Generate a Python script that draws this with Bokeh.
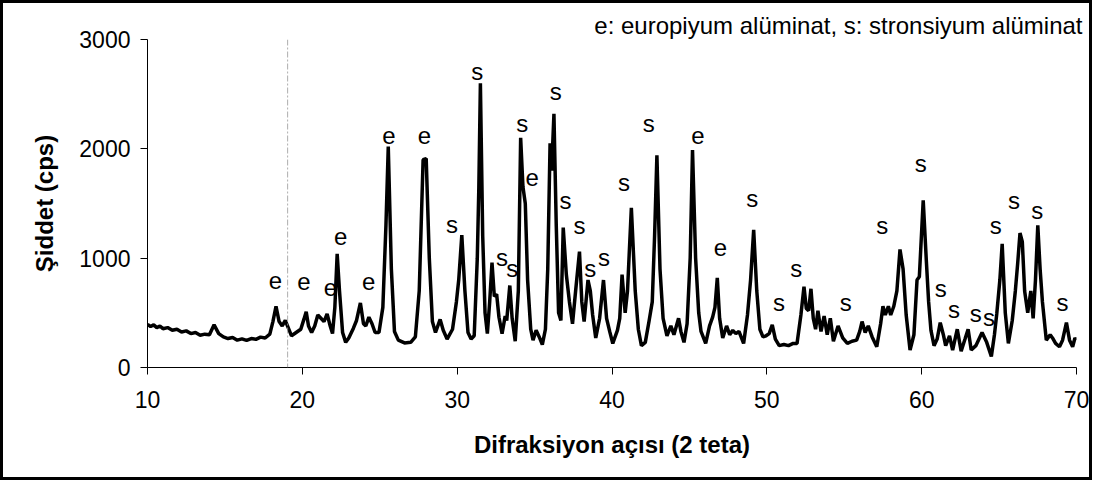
from bokeh.plotting import figure
from bokeh.models import Range1d, FixedTicker, Span
from bokeh.core.properties import value
from bokeh.embed import file_html
from bokeh.resources import INLINE

# ---- data ----
two_theta = [10.0, 10.2, 10.4, 10.6, 10.8, 11.0, 11.3, 11.6, 11.9, 12.2, 12.5, 12.8, 13.1, 13.4,
             13.7, 14.0, 14.3, 14.6, 14.9, 15.2, 15.5, 15.8, 16.1, 16.4, 16.7, 17.0, 17.3, 17.6,
             17.9, 18.1, 18.3, 18.5, 18.7, 18.9, 19.1, 19.3, 19.6, 19.9, 20.1, 20.25, 20.4,
             20.6, 20.8, 21.0, 21.2, 21.4, 21.6, 21.8, 21.95, 22.1, 22.25, 22.4, 22.6, 22.8, 23.0, 23.3,
             23.5, 23.75, 23.95, 24.1, 24.3, 24.5, 24.7, 24.95, 25.2, 25.4, 25.55, 25.75, 25.95, 26.2,
             26.6, 27.0, 27.3, 27.55, 27.8, 28.0, 28.2, 28.4, 28.6, 28.9, 29.1, 29.35, 29.7, 29.95, 30.1,
             30.3, 30.5, 30.7, 30.9, 31.1, 31.3, 31.4, 31.5, 31.65, 31.8, 31.95, 32.1, 32.25, 32.4, 32.55,
             32.7, 32.9, 33.1, 33.2, 33.4, 33.55, 33.75, 33.95, 34.1, 34.25, 34.4, 34.55, 34.75, 34.9,
             35.1, 35.3, 35.5, 35.7, 35.85, 36.0, 36.1, 36.25, 36.4, 36.55, 36.7, 36.85, 37.05, 37.25,
             37.45, 37.65, 37.9, 38.05, 38.2, 38.45, 38.6, 38.75, 38.95, 39.2, 39.45, 39.65, 39.85, 40.05,
             40.35, 40.5, 40.65, 40.85, 41.0, 41.25, 41.5, 41.7, 41.9, 42.15, 42.4, 42.6, 42.75, 42.9,
             43.1, 43.3, 43.55, 43.8, 44.0, 44.3, 44.45, 44.65, 44.85, 45.05, 45.2, 45.4, 45.6, 45.75,
             46.05, 46.3, 46.5, 46.65, 46.8, 46.95, 47.15, 47.4, 47.6, 47.8, 48.0, 48.2, 48.5, 48.75,
             48.95, 49.15, 49.35, 49.55, 49.75, 49.95, 50.15, 50.35, 50.55, 50.8, 51.1, 51.4, 51.7, 51.95,
             52.2, 52.4, 52.55, 52.7, 52.85, 53.0, 53.15, 53.3, 53.5, 53.7, 53.9, 54.1, 54.3, 54.6, 54.9,
             55.2, 55.5, 55.8, 56.0, 56.15, 56.35, 56.55, 56.8, 57.1, 57.35, 57.5, 57.65, 57.85, 58.0,
             58.2, 58.4, 58.6, 58.8, 59.0, 59.25, 59.5, 59.7, 59.85, 60.1, 60.3, 60.45, 60.6, 60.8, 61.0,
             61.2, 61.4, 61.55, 61.8, 62.0, 62.3, 62.55, 62.8, 63.0, 63.2, 63.5, 63.9, 64.2, 64.5, 64.7,
             64.85, 65.05, 65.2, 65.4, 65.6, 65.85, 66.05, 66.2, 66.35, 66.5, 66.65, 66.85, 67.05, 67.2,
             67.35, 67.5, 67.65, 67.8, 68.05, 68.3, 68.45, 68.65, 68.9, 69.1, 69.35, 69.55, 69.75, 69.9,
             70.0]
intensity = [395, 375, 390, 365, 380, 355, 365, 340, 350, 325, 335, 310, 320, 295,
             305, 300, 390, 310, 280, 265, 275, 250, 262, 248, 265, 258, 278, 270,
             305, 420, 560, 420, 380, 430, 360, 290, 320, 350, 440, 510, 380,
             320, 380, 480, 450, 420, 490, 380, 310, 550, 1040, 700, 320, 230, 270, 360,
             430, 590, 400, 380, 460, 400, 320, 320, 550, 1300, 2020, 900, 330, 250,
             225, 230, 280, 700, 1900, 1910, 1000, 420, 320, 440, 340, 260, 350, 600, 800,
             1210, 700, 320, 260, 290, 1000, 1650, 2600, 1200, 500, 310, 600, 960, 650, 670,
             460, 310, 470, 430, 750, 450, 240, 700, 2100, 1650, 1500, 800, 350, 250,
             340, 280, 210, 350, 900, 2050, 1800, 2320, 1300, 500, 430, 1280, 850, 600,
             400, 700, 1060, 600, 420, 800, 700, 480, 270, 450, 800, 450, 330, 220,
             340, 450, 850, 500, 700, 1460, 700, 350, 200, 230, 430, 600, 1200, 1940,
             900, 450, 290, 380, 300, 450, 330, 230, 400, 1000, 1990, 1000, 500, 330,
             220, 380, 460, 550, 820, 450, 270, 380, 300, 340, 310, 330, 220, 480,
             800, 1260, 700, 350, 280, 290, 310, 390, 260, 200, 210, 200, 220, 220,
             480, 740, 540, 520, 720, 450, 350, 520, 330, 470, 300, 450, 240, 380, 270,
             220, 240, 250, 330, 420, 320, 380, 280, 190, 400, 560, 480, 560, 480,
             560, 700, 1080, 900, 480, 160, 300, 800, 830, 1530, 980, 600, 340, 200, 260,
             410, 300, 200, 290, 160, 350, 150, 260, 350, 160, 200, 320, 230, 100, 300,
             490, 800, 1130, 500, 220, 430, 700, 950, 1230, 1150, 700, 500, 700, 450,
             800, 1300, 900, 600, 250, 300, 270, 220, 190, 250, 410, 250, 190, 270,
             250]

label_x = [18.27, 20.1, 21.82, 22.47, 24.28, 25.59, 27.89, 29.66, 31.3, 32.9, 33.55, 34.2, 34.85,
           36.36, 37.0, 37.9, 38.6, 39.48, 40.77, 42.38, 45.55, 47.0, 49.06, 50.78, 51.9, 55.09,
           57.46, 59.94, 61.23, 62.09, 63.49, 64.35, 64.78, 65.96, 67.47, 69.09]
label_y = [794, 790, 730, 1197, 790, 2124, 2124, 1312, 2704, 1008, 902, 2231, 1742,
           2520, 1528, 1299, 902, 1008, 1696, 2231, 2124, 1100, 1544, 596, 902, 596,
           1299, 1864, 718, 535, 490, 458, 1299, 1528, 1436, 596]
label_text = ["e", "e", "e", "e", "e", "e", "e", "s", "s", "s", "s", "s", "e",
              "s", "s", "s", "s", "s", "s", "s", "e", "e", "s", "s", "s", "s",
              "s", "s", "s", "s", "s", "s", "s", "s", "s", "s"]

x_ticks = [10, 20, 30, 40, 50, 60, 70]
y_ticks = [0, 1000, 2000, 3000]
x_title = "Difraksiyon açısı (2 teta)"
y_title = "Şiddet (cps)"
legend_text = "e: europiyum alüminat, s: stronsiyum alüminat"

FONT = "Liberation Sans"
B = 3                      # outer border width (css)
W, H = 1098 - 2 * B, 486 - 2 * B

p = figure(width=W, height=H, output_backend="svg", toolbar_location=None,
           x_range=Range1d(10, 70), y_range=Range1d(0, 3000),
           min_border_left=147 - B, min_border_top=39 - B,
           min_border_right=W - (147 - B) - 929, min_border_bottom=H - (39 - B) - 328)
p.styles = {"border": f"{B}px solid black"}
p.outline_line_color = None
p.grid.visible = False
p.background_fill_color = "white"
p.border_fill_color = "white"

p.title.text = legend_text
p.title.align = "right"
p.title.offset = -6
p.title.standoff = 2
p.title.text_font = FONT
p.title.text_font_size = "24px"
p.title.text_font_style = "normal"
p.title.text_color = "black"

for ax in (p.xaxis[0], p.yaxis[0]):
    ax.axis_line_color = "black"
    ax.axis_line_width = 1
    ax.major_tick_line_color = "black"
    ax.major_tick_out = 7
    ax.major_tick_in = 0
    ax.minor_tick_line_color = None
    ax.major_label_text_font = FONT
    ax.major_label_text_font_size = "23px"
    ax.major_label_text_color = "black"
    ax.axis_label_text_font = FONT
    ax.axis_label_text_font_size = "24px"
    ax.axis_label_text_font_style = "bold"
    ax.axis_label_text_color = "black"

p.xaxis.ticker = FixedTicker(ticks=x_ticks)
p.yaxis.ticker = FixedTicker(ticks=y_ticks)
p.xaxis.axis_label = x_title
p.yaxis.axis_label = y_title
p.xaxis.major_label_standoff = 16
p.yaxis.major_label_standoff = 10
p.xaxis.axis_label_standoff = 20
p.yaxis.axis_label_standoff = 18

# faint scan fold line
p.add_layout(Span(location=19.05, dimension="height", line_color="#9a9a9a",
                  line_width=1, line_dash="6 2 2 2", line_alpha=0.8))

p.line(two_theta, intensity, line_color="black", line_width=3.5)

p.text(x=label_x, y=label_y, text=label_text, text_align="center", text_baseline="middle",
       text_font=value(FONT), text_font_size="24px", text_color="black")

open("out.html", "w").write(file_html(p, INLINE))
